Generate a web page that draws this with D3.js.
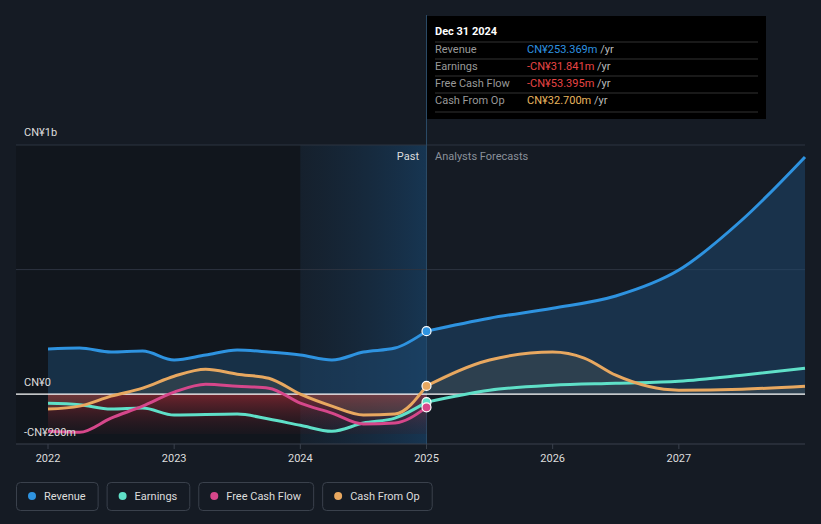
<!DOCTYPE html>
<html>
<head>
<meta charset="utf-8">
<style>
  body { margin: 0; background: #151b24; font-family: Roboto, "Open Sans", sans-serif; }
</style>
</head>
<body>
<svg width="821" height="524" viewBox="0 0 821 524"></svg>
<script src="https://d3js.org/d3.v7.min.js"></script>
<script>
const revenue = [[2022,181],[2022.25,185],[2022.5,169],[2022.75,173],[2023,137],[2023.25,157],[2023.5,177],[2023.75,169],[2024,157],[2024.25,137],[2024.5,169],[2024.75,185],[2025,253],[2025.5,305],[2026,345],[2026.5,394],[2027,498],[2027.5,699],[2028,952]];
const earnings = [[2022,-36],[2022.25,-42],[2022.5,-60],[2022.75,-56],[2023,-84],[2023.5,-80],[2023.75,-100],[2024,-125],[2024.25,-149],[2024.5,-116],[2024.75,-96],[2025,-32],[2025.5,16],[2026,36],[2026.5,44],[2027,52],[2027.5,76],[2028,104]];
const fcf = [[2022,-149],[2022.25,-153],[2022.5,-96],[2022.75,-48],[2023,8],[2023.25,40],[2023.5,32],[2023.75,24],[2024,-36],[2024.25,-76],[2024.5,-120],[2024.75,-116],[2025,-53]];
const cfo = [[2022,-60],[2022.25,-48],[2022.5,-8],[2022.75,24],[2023,72],[2023.25,100],[2023.5,80],[2023.75,64],[2024,0],[2024.25,-48],[2024.5,-84],[2024.75,-80],[2025,33],[2025.5,137],[2026,169],[2026.25,145],[2026.5,76],[2027,16],[2027.5,20],[2028,32]];
const xTicks = [2022, 2023, 2024, 2025, 2026, 2027];
const tooltipRows = [
  ['Revenue', 'CN¥253.369m', '#2e93e0'],
  ['Earnings', '-CN¥31.841m', '#e84545'],
  ['Free Cash Flow', '-CN¥53.395m', '#e84545'],
  ['Cash From Op', 'CN¥32.700m', '#e8b55f']
];
const legendItems = [['Revenue', '#2e93e0'], ['Earnings', '#5fe0c8'], ['Free Cash Flow', '#d6478b'], ['Cash From Op', '#e8a860']];

const svg = d3.select('svg');
const x = d3.scaleLinear().domain([2022, 2028]).range([48, 805]);
const y = d3.scaleLinear().domain([-200, 1000]).range([444, 145]);
const line = d3.line().x(d => x(d[0])).y(d => y(d[1])).curve(d3.curveMonotoneX);
const area = d3.area().x(d => x(d[0])).y0(y(0)).y1(d => y(d[1])).curve(d3.curveMonotoneX);

const defs = svg.append('defs');
const pastG = defs.append('linearGradient').attr('id', 'past').attr('x1', 0).attr('x2', 1);
pastG.append('stop').attr('offset', 0).attr('stop-color', '#16283a').attr('stop-opacity', 0.4);
pastG.append('stop').attr('offset', 1).attr('stop-color', '#173a5a').attr('stop-opacity', 0.85);
const redG = defs.append('linearGradient').attr('id', 'red').attr('x1', 0).attr('x2', 0).attr('y1', 0).attr('y2', 1);
redG.append('stop').attr('offset', 0).attr('stop-color', '#c0303a').attr('stop-opacity', 0.9);
redG.append('stop').attr('offset', 1).attr('stop-color', '#3a1a22').attr('stop-opacity', 0.3);

// background panels
svg.append('rect').attr('x', 16).attr('y', 145).attr('width', x(2024) - 16).attr('height', 299).attr('fill', '#11161d');
svg.append('rect').attr('x', x(2024)).attr('y', 145).attr('width', x(2025) - x(2024)).attr('height', 299).attr('fill', 'url(#past)');

// grid
[1000, 500].forEach(v => svg.append('line').attr('x1', 16).attr('x2', 805).attr('y1', y(v)).attr('y2', y(v)).attr('stroke', '#2d3440'));
svg.append('line').attr('x1', 16).attr('x2', 805).attr('y1', 444).attr('y2', 444).attr('stroke', '#3a414c');
svg.append('line').attr('x1', x(2025)).attr('x2', x(2025)).attr('y1', 15).attr('y2', 444).attr('stroke', '#2a4a66');

// fills
svg.append('path').datum(revenue).attr('d', area).attr('fill', '#1d4a72').attr('opacity', 0.5);
svg.append('rect').attr('x', x(2022)).attr('y', y(0)).attr('width', x(2025) - x(2022)).attr('height', y(-200) - y(0) - 10).attr('fill', 'url(#red)').attr('opacity', 0.6);
svg.append('path').datum(cfo).attr('d', area).attr('fill', '#6a6a5a').attr('opacity', 0.25);

svg.append('line').attr('x1', 16).attr('x2', 805).attr('y1', y(0)).attr('y2', y(0)).attr('stroke', '#fff').attr('stroke-width', 1.2);

const series = [[earnings, '#5fe0c8'], [fcf, '#d6478b'], [cfo, '#e8a860'], [revenue, '#2e93e0']];
series.forEach(([d, c]) => {
  svg.append('path').datum(d.filter(p => p[0] <= 2025)).attr('d', line).attr('fill', 'none').attr('stroke', c).attr('stroke-width', 3);
  const fut = d.filter(p => p[0] >= 2025);
  if (fut.length > 1) svg.append('path').datum(fut).attr('d', line).attr('fill', 'none').attr('stroke', c).attr('stroke-width', 3);
  const last = d.find(p => p[0] === 2025);
  svg.append('circle').attr('cx', x(last[0])).attr('cy', y(last[1])).attr('r', 4.5).attr('fill', c).attr('stroke', '#fff').attr('stroke-width', 1.2);
});

// labels
const txt = (t, xx, yy, o = {}) => svg.append('text').attr('x', xx).attr('y', yy).attr('fill', o.fill || '#ddd')
  .attr('font-size', o.size || 11).attr('text-anchor', o.anchor || 'start').attr('font-weight', o.weight || 'normal').text(t);
txt('CN¥1b', 24, 136);
txt('CN¥0', 24, 386);
txt('-CN¥200m', 24, 436);
txt('Past', 419, 160, { anchor: 'end' });
txt('Analysts Forecasts', 435, 160, { fill: '#8a909a' });
xTicks.forEach(t => {
  svg.append('line').attr('x1', x(t)).attr('x2', x(t)).attr('y1', 444).attr('y2', 449).attr('stroke', '#3a414c');
  txt(t, x(t), 462, { anchor: 'middle' });
});

// tooltip
svg.append('rect').attr('x', 427).attr('y', 16).attr('width', 339).attr('height', 103).attr('fill', '#000');
txt('Dec 31 2024', 435, 35, { fill: '#fff', weight: 'bold' });
tooltipRows.forEach((r, i) => {
  const yy = 53 + i * 17;
  svg.append('line').attr('x1', 435).attr('x2', 758).attr('y1', yy - 11).attr('y2', yy - 11).attr('stroke', '#333');
  txt(r[0], 435, yy, { fill: '#999' });
  const t = txt(r[1], 527, yy, { fill: r[2] });
  t.append('tspan').attr('fill', '#bbb').text(' /yr');
});
svg.append('line').attr('x1', 435).attr('x2', 758).attr('y1', 112).attr('y2', 112).attr('stroke', '#333');

// legend
let lx = 16;
legendItems.forEach(([name, c]) => {
  const box = svg.append('rect').attr('x', lx + 0.5).attr('y', 482.5).attr('height', 28).attr('rx', 4).attr('fill', 'none').attr('stroke', '#3a414c');
  svg.append('circle').attr('cx', lx + 16).attr('cy', 496).attr('r', 4).attr('fill', c);
  const t = txt(name, lx + 28, 500, { fill: '#ddd' });
  const w = t.node().getComputedTextLength() + 40;
  box.attr('width', w);
  lx += w + 9;
});
</script>
</body>
</html>
